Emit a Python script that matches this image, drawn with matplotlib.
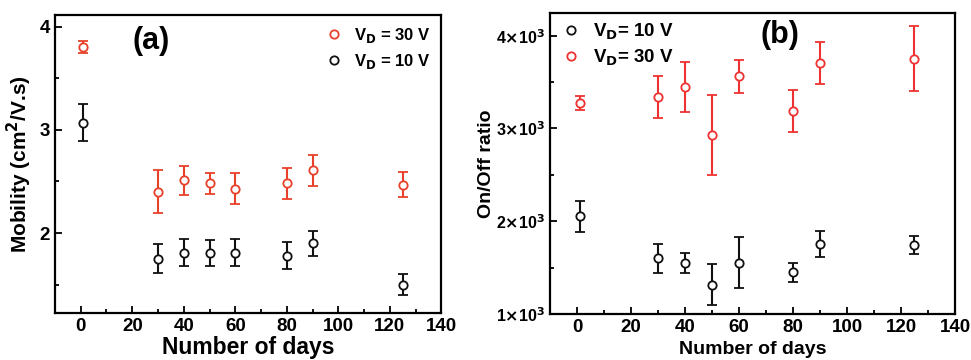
import matplotlib
matplotlib.use("Agg")
import matplotlib.pyplot as plt
from matplotlib.ticker import MultipleLocator, FixedLocator
from matplotlib.lines import Line2D

plt.rcParams['font.family'] = ['Liberation Sans', 'DejaVu Sans']
plt.rcParams['font.weight'] = 'bold'

days = [1, 30, 40, 50, 60, 80, 90, 125]

# Panel (a): mobility
mob30 = [3.80, 2.40, 2.51, 2.48, 2.43, 2.48, 2.61, 2.47]
mob30_err = [0.06, 0.21, 0.14, 0.105, 0.15, 0.15, 0.15, 0.125]
mob10 = [3.07, 1.75, 1.81, 1.806, 1.81, 1.78, 1.90, 1.50]
mob10_err = [0.18, 0.14, 0.13, 0.13, 0.13, 0.13, 0.12, 0.10]

# Panel (b): on/off ratio
onoff10 = [2054, 1601, 1550, 1317, 1554, 1450, 1752, 1741]
onoff10_err = [167, 157, 105, 220, 273, 104, 142, 97]
onoff30 = [3277, 3335, 3446, 2928, 3561, 3187, 3709, 3752]
onoff30_err = [78, 226, 272, 430, 176, 228, 227, 349]

xticks = [0, 20, 40, 60, 80, 100, 120, 140]
yticks_b = [1000, 2000, 3000, 4000]
yticklabels_b = [r'1$\times$10$^3$', r'2$\times$10$^3$', r'3$\times$10$^3$', r'4$\times$10$^3$']

red_a = '#e8412a'
red_b = '#ee3232'
black = '#111111'

fig = plt.figure(figsize=(9.71, 3.6), dpi=100)
axa = fig.add_axes([0.0566, 0.1306, 0.398, 0.827])
axb = fig.add_axes([0.5664, 0.128, 0.4171, 0.837])

ebkw = dict(fmt='o', markersize=6, markerfacecolor='white', markeredgewidth=1.3,
            elinewidth=1.5, capsize=3.5, capthick=1.5, linestyle='none')

axa.errorbar(days, mob30, yerr=mob30_err, color=red_a, mec=red_a, **ebkw)
axa.errorbar(days, mob10, yerr=mob10_err, color=black, mec=black, **ebkw)

axb.errorbar(days, onoff10, yerr=onoff10_err, color=black, mec=black, **ebkw)
axb.errorbar(days, onoff30, yerr=onoff30_err, color=red_b, mec=red_b, **ebkw)

for ax in (axa, axb):
    ax.set_xlim(-10, 140)
    ax.set_xticks(xticks)
    ax.xaxis.set_minor_locator(MultipleLocator(10))
    ax.tick_params(which='both', direction='in', width=1.3)
    ax.tick_params(axis='x', labelsize=13.5)
    ax.tick_params(which='major', length=5)
    ax.tick_params(which='minor', length=3)
    for s in ax.spines.values():
        s.set_linewidth(1.6)

axa.tick_params(axis='y', labelsize=13.5)

axa.set_ylim(1.225, 4.11)
axa.set_yticks([2, 3, 4])
axa.yaxis.set_minor_locator(FixedLocator([1.5, 2.5, 3.5]))
axa.set_xlabel('Number of days', fontsize=16.5, fontweight='bold', labelpad=0.5)
axa.set_ylabel('Mobility (cm$^{\\mathbf{2}}$/V.s)', fontsize=15, fontweight='bold', labelpad=4)
axa.text(0.25, 0.915, '(a)', transform=axa.transAxes, fontsize=22, fontweight='bold',
         ha='center', va='center')

def handle(c):
    return Line2D([], [], marker='o', linestyle='none', markersize=6,
                  markerfacecolor='white', markeredgecolor=c, markeredgewidth=1.3)

axa.legend([handle(red_a), handle(black)], [r'V$_{\mathbf{D}}$ = 30 V', r'V$_{\mathbf{D}}$ = 10 V'],
           loc='upper right', frameon=False, handletextpad=0.6,
           labelspacing=0.4, borderaxespad=0.25, handlelength=1.2,
           prop={'weight': 'bold', 'size': 12})

axb.set_ylim(1000, 4250)
axb.set_yticks(yticks_b)
axb.set_yticklabels(yticklabels_b, fontweight='bold', fontsize=11.5)
axb.yaxis.set_minor_locator(FixedLocator([1500, 2500, 3500]))
axb.set_xlabel('Number of days', fontsize=14, fontweight='bold', labelpad=4)
axb.set_ylabel('On/Off ratio', fontsize=14, fontweight='bold', labelpad=1)
axb.text(0.568, 0.926, '(b)', transform=axb.transAxes, fontsize=22, fontweight='bold',
         ha='center', va='center')
axb.legend([handle(black), handle(red_b)], [r'V$_{\mathbf{D}}$= 10 V', r'V$_{\mathbf{D}}$= 30 V'],
           loc='upper left', frameon=False, handletextpad=0.6,
           labelspacing=0.3, borderaxespad=0.1, handlelength=1.2,
           prop={'weight': 'bold', 'size': 13.5})

for ax in (axa, axb):
    for lab in ax.get_xticklabels() + ax.get_yticklabels():
        lab.set_fontweight('bold')

fig.savefig('out.png', dpi=100)
